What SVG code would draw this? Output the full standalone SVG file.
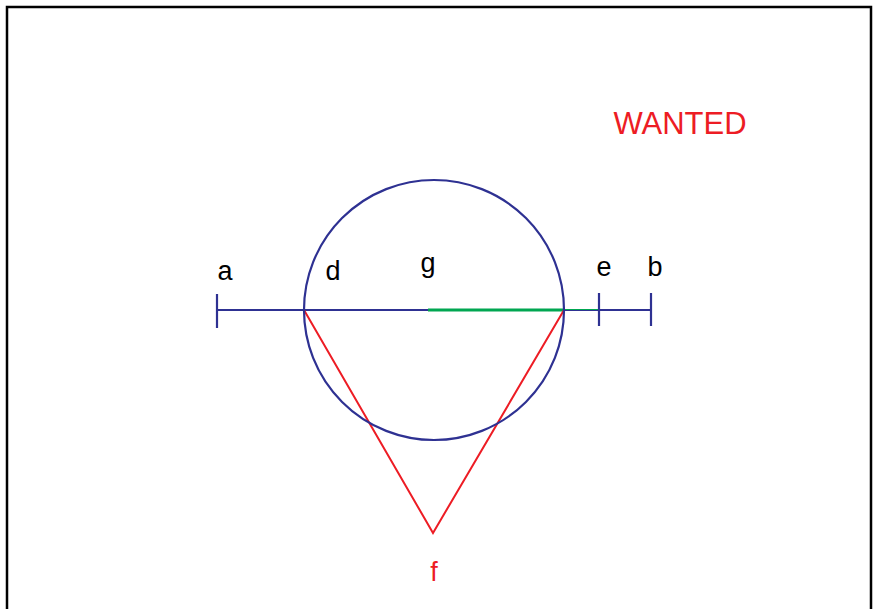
<svg xmlns="http://www.w3.org/2000/svg" width="876" height="609" viewBox="0 0 876 609">
<style>
.lbl{font-family:"Liberation Sans",Arial,sans-serif;font-size:27px;fill:#000;text-anchor:middle}
.red{fill:#ed1c24}
.blue{stroke:#2e3192;stroke-width:2.2;fill:none}
</style>
<rect x="7" y="7" width="864" height="640" fill="#fff" stroke="#000" stroke-width="2.5"/>
<g id="connectors">
<line class="blue" x1="217" y1="310" x2="651" y2="310"/>
<line x1="428" y1="310" x2="564" y2="310" stroke="#00a651" stroke-width="3"/>
<line x1="564" y1="309.5" x2="598" y2="309.5" stroke="#00a651" stroke-width="1.2"/>
<line class="blue" x1="217" y1="294" x2="217" y2="328"/>
<line class="blue" x1="599" y1="293" x2="599" y2="326"/>
<line class="blue" x1="651" y1="293" x2="651" y2="326"/>
<polyline points="304,310 433,533 564,310" fill="none" stroke="#ed1c24" stroke-width="2"/>
</g>
<g id="circle"><circle cx="434" cy="310" r="130" class="blue"/></g>
<g id="labels">
<text class="lbl" x="225" y="280">a</text>
<text class="lbl" x="333" y="280">d</text>
<text class="lbl" x="428" y="272">g</text>
<text class="lbl" x="604" y="276">e</text>
<text class="lbl" x="655" y="276">b</text>
<text class="lbl red" x="434" y="581">f</text>
<text class="lbl red" x="680" y="134" style="font-size:31px">WANTED</text>
</g>
</svg>
